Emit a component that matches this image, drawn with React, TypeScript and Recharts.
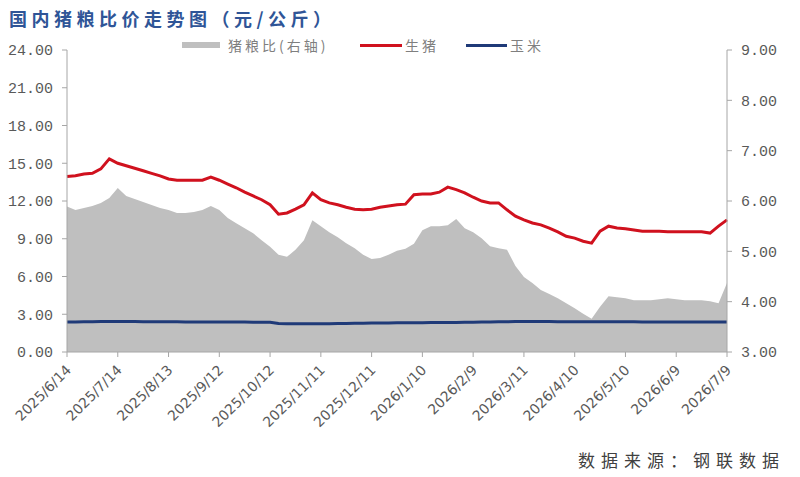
import React from "react";
import {
  ComposedChart,
  Area,
  Line,
  XAxis,
  YAxis,
} from "recharts";

// x labels every 30 days, data sampled every 5 days from 2025/6/14
const tickLabels = [
  "2025/6/14", "2025/7/14", "2025/8/13", "2025/9/12", "2025/10/12",
  "2025/11/11", "2025/12/11", "2026/1/10", "2026/2/9", "2026/3/11",
  "2026/4/10", "2026/5/10", "2026/6/9", "2026/7/9",
];

// 生猪 (元/公斤, left axis)
const hogPrice = [
  13.94, 14.0, 14.15, 14.2, 14.55, 15.35, 15.0, 14.8, 14.6, 14.4,
  14.2, 14.0, 13.75, 13.65, 13.65, 13.65, 13.65, 13.9, 13.65, 13.35,
  13.05, 12.7, 12.4, 12.1, 11.7, 10.95, 11.05, 11.35, 11.7, 12.65,
  12.1, 11.85, 11.7, 11.5, 11.35, 11.3, 11.35, 11.5, 11.6, 11.7,
  11.75, 12.5, 12.55, 12.55, 12.7, 13.1, 12.9, 12.65, 12.3, 12.0,
  11.85, 11.85, 11.3, 10.8, 10.5, 10.25, 10.1, 9.85, 9.55, 9.2,
  9.05, 8.8, 8.65, 9.6, 10.0, 9.85, 9.8, 9.7, 9.6, 9.6,
  9.6, 9.55, 9.55, 9.55, 9.55, 9.55, 9.45, 10.0, 10.5,
];

// 玉米 (元/公斤, left axis)
const cornPrice = [
  2.38, 2.39, 2.4, 2.41, 2.42, 2.43, 2.43, 2.42, 2.42, 2.41,
  2.41, 2.4, 2.4, 2.4, 2.39, 2.39, 2.39, 2.38, 2.38, 2.38,
  2.38, 2.38, 2.37, 2.37, 2.37, 2.26, 2.25, 2.24, 2.24, 2.24,
  2.25, 2.25, 2.26, 2.27, 2.28, 2.29, 2.3, 2.31, 2.31, 2.32,
  2.32, 2.33, 2.33, 2.34, 2.34, 2.35, 2.35, 2.36, 2.37, 2.38,
  2.39, 2.4, 2.41, 2.42, 2.42, 2.42, 2.42, 2.42, 2.41, 2.41,
  2.41, 2.41, 2.4, 2.4, 2.4, 2.4, 2.4, 2.4, 2.39, 2.39,
  2.39, 2.39, 2.39, 2.39, 2.39, 2.39, 2.39, 2.39, 2.39,
];

// 猪粮比 (right axis)
const ratio = [
  5.89, 5.82, 5.86, 5.9, 5.96, 6.06, 6.26, 6.1, 6.04, 5.98,
  5.92, 5.86, 5.82, 5.76, 5.76, 5.78, 5.82, 5.9, 5.82, 5.66,
  5.56, 5.46, 5.36, 5.22, 5.09, 4.93, 4.89, 5.03, 5.22, 5.62,
  5.5, 5.38, 5.28, 5.16, 5.06, 4.93, 4.85, 4.87, 4.93, 5.01,
  5.05, 5.15, 5.42, 5.5, 5.5, 5.52, 5.64, 5.46, 5.38, 5.26,
  5.1, 5.06, 5.03, 4.71, 4.49, 4.37, 4.23, 4.15, 4.07, 3.97,
  3.87, 3.76, 3.66, 3.9, 4.11, 4.09, 4.07, 4.03, 4.03, 4.03,
  4.05, 4.07, 4.05, 4.03, 4.03, 4.03, 4.01, 3.97, 4.37,
];

const leftTicks = [0, 3, 6, 9, 12, 15, 18, 21, 24];
const rightTicks = [3, 4, 5, 6, 7, 8, 9];
const tickDays = tickLabels.map((_, i) => i * 30);

const data = hogPrice.map((v, i) => ({
  day: i * 5,
  hog: v,
  corn: cornPrice[i],
  ratio: ratio[i],
}));

const axisColor = "#a6a6a6";
const labelColor = "#595959";
const cjk = '"Noto Sans CJK SC", sans-serif';

const DateTick = (props: any) => {
  const { x, y, payload } = props;
  const idx = tickDays.indexOf(payload.value);
  return (
    <g transform={`translate(${x + 5},${y + 12})`}>
      <text
        x={0}
        y={0}
        textAnchor="end"
        transform="rotate(-45)"
        fill={labelColor}
        fontSize={14}
        fontFamily='"DejaVu Sans", sans-serif'
      >
        {tickLabels[idx]}
      </text>
    </g>
  );
};

// legend sits across the top edge of the plot, like the original
const LegendBox = () => (
  <div style={{ position: "absolute", left: 182, top: 36, width: 380, height: 20, fontFamily: cjk, fontSize: 14, color: "#7f7f7f", letterSpacing: 3 }}>
    <div style={{ position: "absolute", left: 0, top: 6, width: 38, height: 6, background: "#bfbfbf" }} />
    <div style={{ position: "absolute", left: 46, top: 0, lineHeight: "18px", whiteSpace: "nowrap" }}>猪粮比(右轴)</div>
    <div style={{ position: "absolute", left: 178, top: 8, width: 42, height: 3, background: "#d0111e" }} />
    <div style={{ position: "absolute", left: 223, top: 0, lineHeight: "18px", whiteSpace: "nowrap" }}>生猪</div>
    <div style={{ position: "absolute", left: 284, top: 8, width: 41, height: 3, background: "#1f3a78" }} />
    <div style={{ position: "absolute", left: 328, top: 0, lineHeight: "18px", whiteSpace: "nowrap" }}>玉米</div>
  </div>
);

export default function App() {
  return (
    <div style={{ position: "absolute", left: 0, top: 0, width: 800, height: 477, background: "#fff" }}>
      <div
        style={{
          position: "absolute",
          left: 9,
          top: 7,
          fontFamily: cjk,
          fontWeight: 700,
          fontSize: 18,
          letterSpacing: 4.5,
          color: "#2f5597",
          whiteSpace: "nowrap",
          lineHeight: "22px",
        }}
      >
        国内猪粮比价走势图（元/公斤）
      </div>
      <ComposedChart
        width={800}
        height={477}
        data={data}
        margin={{ top: 50, right: 0, left: 0, bottom: 65 }}
      >
        <XAxis
          dataKey="day"
          type="number"
          domain={[0, 390]}
          ticks={tickDays}
          tick={<DateTick />}
          tickSize={5}
          height={60}
          stroke={axisColor}
          interval={0}
        />
        <YAxis
          yAxisId="left"
          domain={[0, 24]}
          ticks={leftTicks}
          width={67}
          tickSize={5}
          tickMargin={9}
          stroke={axisColor}
          tickFormatter={(v: number) => v.toFixed(2)}
          tick={{ fill: labelColor, fontSize: 15, fontFamily: '"Liberation Mono", monospace' }}
        />
        <YAxis
          yAxisId="right"
          orientation="right"
          domain={[3, 9]}
          ticks={rightTicks}
          width={73}
          tickSize={5}
          tickMargin={9}
          stroke={axisColor}
          tickFormatter={(v: number) => v.toFixed(2)}
          tick={{ fill: labelColor, fontSize: 15, fontFamily: '"Liberation Mono", monospace' }}
        />
        <Area
          yAxisId="right"
          dataKey="ratio"
          type="linear"
          stroke="none"
          fill="#bfbfbf"
          fillOpacity={1}
          isAnimationActive={false}
        />
        <Line
          yAxisId="left"
          dataKey="hog"
          type="linear"
          stroke="#d0111e"
          strokeWidth={3}
          dot={false}
          isAnimationActive={false}
        />
        <Line
          yAxisId="left"
          dataKey="corn"
          type="linear"
          stroke="#1f3a78"
          strokeWidth={3}
          dot={false}
          isAnimationActive={false}
        />
      </ComposedChart>
      <LegendBox />
      <div
        style={{
          position: "absolute",
          left: 578,
          top: 449,
          fontFamily: cjk,
          fontSize: 17,
          letterSpacing: 6,
          color: "#404040",
          whiteSpace: "nowrap",
          lineHeight: "22px",
        }}
      >
        数据来源：钢联数据
      </div>
    </div>
  );
}
